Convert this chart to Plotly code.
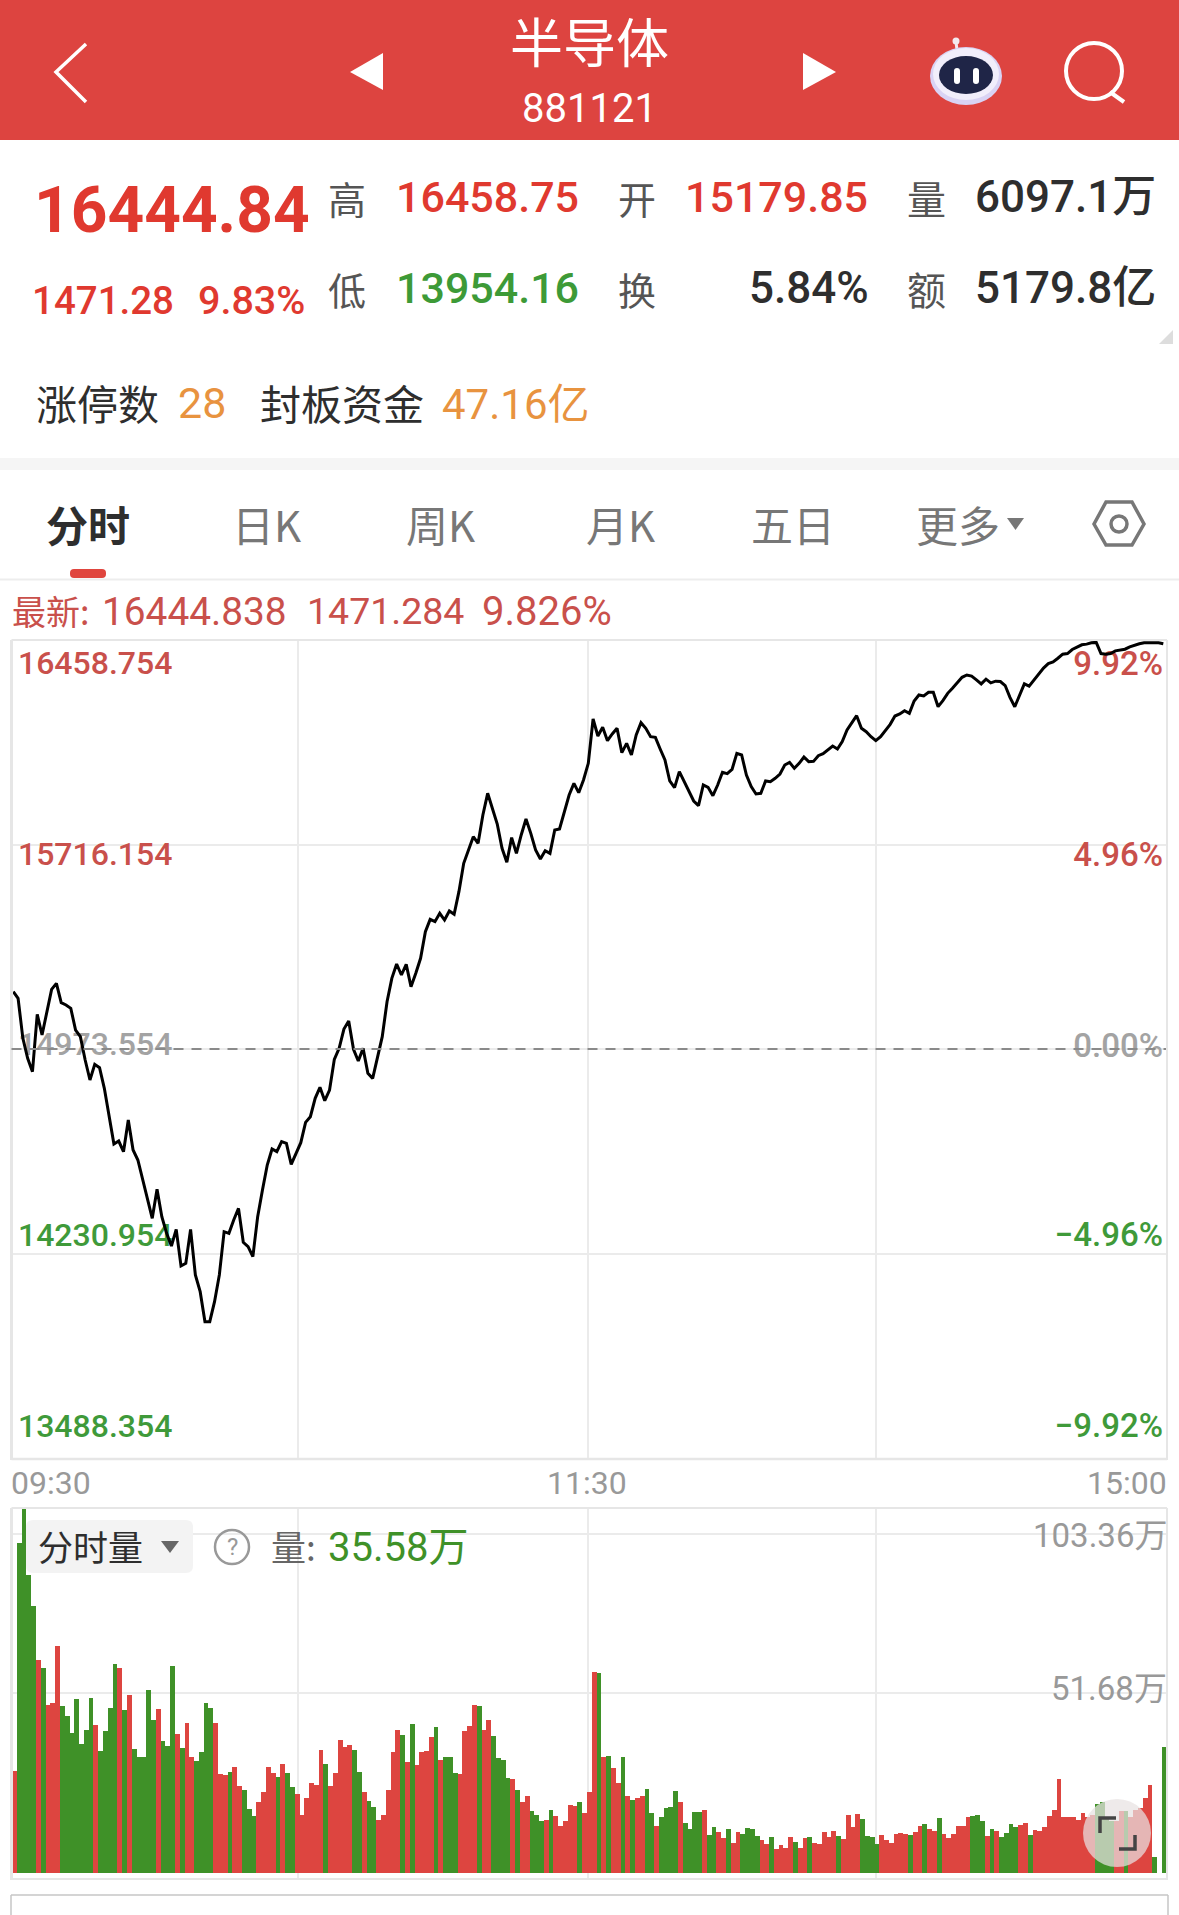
import plotly.graph_objects as go

W, H = 1179, 1915
CJK = "Noto Sans CJK SC"
NUM = "Roboto, 'Noto Sans CJK SC'"

RED = "#E0392F"
GREEN = "#3D9A37"
DARK = "#2E2E2E"
ORANGE = "#E8933F"
BAR_RED = "#DD4540"
BAR_GREEN = "#3F9128"
GRID = "#EBEBEB"

# intraday index value, one point per minute from 09:30
price = [
    15182.0, 15157.5, 15012.3, 14939.7, 14891.2, 15099.4, 15024.4, 15109.1, 15190.2, 15212.0,
    15141.8, 15133.3, 15121.2, 15042.5, 15018.3, 14933.6, 14861.0, 14917.8, 14905.8, 14830.7,
    14727.8, 14628.6, 14639.4, 14600.7, 14715.7, 14606.8, 14570.5, 14497.8, 14431.3, 14358.6,
    14464.0, 14364.7, 14304.2, 14258.2, 14318.7, 14185.6, 14195.2, 14318.7, 14152.9, 14092.4,
    13983.4, 13983.4, 14056.0, 14152.9, 14310.2, 14304.2, 14352.6, 14394.9, 14271.5, 14255.8,
    14219.4, 14364.7, 14461.5, 14552.3, 14610.4, 14600.7, 14637.0, 14631.0, 14554.7, 14594.7,
    14633.4, 14707.2, 14727.8, 14794.4, 14834.3, 14785.9, 14824.6, 14936.0, 14975.9, 15046.1,
    15075.2, 14972.3, 14929.9, 14975.9, 14885.2, 14867.0, 14939.6, 15018.3, 15145.4, 15230.1,
    15282.2, 15242.3, 15281.0, 15199.9, 15248.4, 15302.8, 15399.7, 15444.4, 15436.0, 15466.2,
    15442.0, 15474.7, 15462.6, 15544.9, 15647.8, 15696.2, 15744.6, 15720.4, 15823.3, 15902.0,
    15847.5, 15790.6, 15702.3, 15651.4, 15741.0, 15684.1, 15750.7, 15808.8, 15756.7, 15696.2,
    15663.5, 15693.8, 15684.1, 15768.8, 15772.5, 15835.4, 15895.9, 15938.3, 15904.4, 15950.4,
    16010.9, 16171.9, 16110.2, 16141.6, 16093.2, 16117.4, 16138.0, 16049.7, 16083.6, 16041.2,
    16113.8, 16158.6, 16138.0, 16107.8, 16105.3, 16063.0, 16023.0, 15946.8, 15922.6, 15980.7,
    15944.4, 15908.0, 15874.1, 15857.2, 15932.2, 15923.8, 15893.5, 15932.2, 15978.2, 15973.4,
    15989.1, 16047.2, 16041.2, 15968.6, 15926.2, 15899.6, 15902.0, 15946.8, 15944.4, 15956.5,
    15972.2, 16004.8, 16014.5, 15992.7, 16010.9, 16033.9, 16016.9, 16018.1, 16038.7, 16046.0,
    16059.3, 16073.8, 16062.9, 16089.6, 16131.9, 16159.8, 16184.0, 16138.0, 16125.9, 16107.7,
    16093.2, 16107.7, 16129.5, 16152.5, 16182.8, 16190.0, 16202.1, 16192.4, 16237.2, 16259.0,
    16255.4, 16268.7, 16268.7, 16216.6, 16238.4, 16265.1, 16283.2, 16303.8, 16323.2, 16331.6,
    16327.6, 16314.2, 16299.5, 16316.6, 16303.1, 16309.3, 16308.0, 16293.4, 16250.6, 16216.3,
    16256.7, 16299.5, 16290.9, 16311.7, 16336.2, 16357.0, 16372.8, 16379.0, 16392.4, 16407.1,
    16409.5, 16424.2, 16432.8, 16441.3, 16443.8, 16448.6, 16449.9, 16409.5, 16407.1, 16409.5,
    16419.3, 16421.7, 16425.4, 16434.0, 16440.1, 16445.0, 16448.6, 16448.6, 16448.6, 16448.6,
    16444.8,
]

# per minute volume in 万
volume = [
    28.8, 93.5, 103.36, 84.5, 75.7, 60.4, 58.1, 47.7, 48.1, 64.4,
    47.2, 44.6, 39.6, 49.4, 36.6, 40.6, 49.6, 41.8, 34.6, 40.3,
    46.7, 59.2, 58.1, 46.1, 50.4, 35.1, 32.9, 32.9, 51.7, 43.4,
    46.4, 37.3, 36.1, 58.5, 39.5, 35.4, 42.4, 32.9, 31.6, 34.4,
    48.0, 46.7, 42.6, 28.0, 27.8, 28.6, 29.9, 24.5, 23.4, 18.1,
    16.2, 20.0, 22.9, 30.0, 28.3, 27.1, 30.9, 28.2, 24.3, 22.5,
    16.4, 21.1, 25.6, 25.0, 34.9, 30.9, 24.7, 28.3, 37.7, 35.6,
    36.2, 34.8, 28.7, 22.9, 20.4, 18.7, 15.1, 16.5, 23.5, 34.4,
    40.6, 39.2, 31.4, 42.3, 30.5, 34.4, 34.6, 38.4, 41.3, 32.0,
    32.9, 32.9, 28.2, 28.0, 40.3, 41.6, 47.6, 47.3, 40.6, 43.4,
    38.9, 32.6, 32.0, 26.9, 26.6, 23.5, 20.2, 21.9, 17.6, 16.5,
    14.8, 15.0, 17.8, 16.2, 13.2, 14.8, 19.2, 19.1, 20.1, 17.1,
    22.8, 56.9, 56.6, 32.8, 33.1, 29.7, 25.4, 32.9, 21.8, 20.6,
    21.2, 21.8, 23.7, 17.1, 13.4, 16.0, 18.5, 18.8, 23.1, 20.2,
    14.2, 12.4, 17.2, 17.3, 17.8, 10.9, 13.0, 11.5, 10.0, 12.5,
    8.4, 11.7, 11.0, 12.7, 12.4, 10.4, 9.3, 8.3, 10.2, 6.9,
    8.0, 7.2, 10.3, 8.9, 7.2, 9.9, 10.2, 8.4, 8.1, 11.7,
    10.2, 12.0, 10.4, 9.7, 16.5, 12.9, 16.8, 15.3, 10.6, 10.3,
    8.2, 10.7, 9.3, 8.4, 11.0, 11.3, 11.0, 10.7, 11.5, 13.4,
    14.0, 12.4, 11.9, 15.5, 11.1, 9.8, 11.0, 13.4, 13.4, 16.0,
    16.2, 16.5, 14.8, 10.6, 12.5, 12.0, 10.2, 11.3, 14.0, 13.1,
    13.6, 14.2, 10.8, 12.2, 12.0, 13.1, 16.2, 17.8, 26.5, 15.9,
    16.0, 16.0, 15.1, 17.0, 16.0, 16.5, 19.4, 20.1, 16.0, 14.6,
    14.6, 17.6, 17.6, 16.0, 17.9, 18.4, 21.2, 24.8, 4.6, 0,
    35.58,
]

# R = up minute, G = down minute
volume_dir = (
    "RGGGGRGRRR" "GGGGGGGRGG" "GGRGRGGGGG" "RGGGRGRRGG" "GGRRRGRRGG" "GRRRRGRGGR"
    "RRRRRGRRRR" "RGGRGGRRRR" "RGRGRRRRGR" "GGGRRRRGRR" "GGGGRGRRGG" "GRGRRRRRGR"
    "RRGRGRRGRG" "RRGGRGGGGR" "GGGGRGGRRG" "RRGGGGRRGR" "RRRGRRGRRR" "RRGRRRRGGG"
    "GRRRRRRGRR" "GRRGRRRRRR" "GGGRGRGGGG" "RRGRRRRRRR" "RRRRRRGGGG" "RRGRRRRRGGG"
)

minutes = list(range(len(price)))

price_ticks = [16458.754, 15716.154, 14973.554, 14230.954, 13488.354]
price_labels = ["16458.754", "15716.154", "14973.554", "14230.954", "13488.354"]
pct_labels = ["9.92%", "4.96%", "0.00%", "−4.96%", "−9.92%"]
label_colors = ["#C9504B", "#C9504B", "#A3A3A3", "#3F9A3A", "#3F9A3A"]
time_grid = [59.5, 120, 180]
time_labels = ["09:30", "11:30", "15:00"]
volume_grid = [51.0, 96.0]
volume_labels = ["103.36万", "51.68万"]


def X(x):
    return x / W


def Y(y):
    return 1 - y / H


# plot boxes, in page pixels
PRICE_LEFT, PRICE_RIGHT, PRICE_TOP, PRICE_BOTTOM = 11.9, 1166.7, 640, 1458
VOL_TOP, VOL_BOTTOM = 1508, 1879
PRICE_RANGE = [price_ticks[-1], price_ticks[0]]
X_RANGE = [-0.29, 240.71]


def price_at(y):
    f = (PRICE_BOTTOM - y) / (PRICE_BOTTOM - PRICE_TOP)
    return PRICE_RANGE[0] + f * (PRICE_RANGE[1] - PRICE_RANGE[0])


def minute_at(x):
    f = (x - PRICE_LEFT) / (PRICE_RIGHT - PRICE_LEFT)
    return X_RANGE[0] + f * (X_RANGE[1] - X_RANGE[0])


fig = go.Figure()

# axis labels go in as text traces so the price line stays on top of them
left_y = [665.5, 856.5, 1047, 1238, 1429]
right_y = [666.5, 857.5, 1048.5, 1238, 1429]
fig.add_trace(go.Scatter(
    x=[minute_at(18)] * 5, y=[price_at(v) for v in left_y], text=price_labels,
    mode="text", textposition="middle right", cliponaxis=False,
    textfont=dict(family="Roboto", size=32, color=label_colors, weight=500),
    hoverinfo="skip", showlegend=False,
))
fig.add_trace(go.Scatter(
    x=[minute_at(1163)] * 5, y=[price_at(v) for v in right_y], text=pct_labels,
    mode="text", textposition="middle left", cliponaxis=False,
    textfont=dict(family="Roboto", size=33, color=label_colors, weight=500),
    hoverinfo="skip", showlegend=False,
))
fig.add_trace(go.Scatter(
    x=minutes, y=price, mode="lines",
    line=dict(color="#000000", width=3, shape="linear"),
    hoverinfo="skip", showlegend=False,
))
fig.add_trace(go.Bar(
    x=minutes, y=volume, xaxis="x2", yaxis="y2", width=1,
    marker=dict(color=[BAR_RED if d == "R" else BAR_GREEN for d in volume_dir], line=dict(width=0)),
    hoverinfo="skip", showlegend=False,
))

shapes = []


def rect(x0, y0, x1, y1, fill, radius=0):
    if radius:
        path = (
            f"M {X(x0 + radius)} {Y(y0)} L {X(x1 - radius)} {Y(y0)} "
            f"Q {X(x1)} {Y(y0)} {X(x1)} {Y(y0 + radius)} L {X(x1)} {Y(y1 - radius)} "
            f"Q {X(x1)} {Y(y1)} {X(x1 - radius)} {Y(y1)} L {X(x0 + radius)} {Y(y1)} "
            f"Q {X(x0)} {Y(y1)} {X(x0)} {Y(y1 - radius)} L {X(x0)} {Y(y0 + radius)} "
            f"Q {X(x0)} {Y(y0)} {X(x0 + radius)} {Y(y0)} Z"
        )
        shapes.append(dict(type="path", xref="paper", yref="paper", path=path,
                           fillcolor=fill, line=dict(width=0)))
    else:
        shapes.append(dict(type="rect", xref="paper", yref="paper", x0=X(x0), x1=X(x1),
                           y0=Y(y0), y1=Y(y1), fillcolor=fill, line=dict(width=0)))


def seg(x0, y0, x1, y1, color, width=2, dash="solid", layer="above"):
    shapes.append(dict(type="line", xref="paper", yref="paper", x0=X(x0), x1=X(x1),
                       y0=Y(y0), y1=Y(y1), layer=layer, line=dict(color=color, width=width, dash=dash)))


def oval(cx, cy, rx, ry, fill="rgba(0,0,0,0)", color="rgba(0,0,0,0)", width=0):
    shapes.append(dict(type="circle", xref="paper", yref="paper", x0=X(cx - rx), x1=X(cx + rx),
                       y0=Y(cy - ry), y1=Y(cy + ry), fillcolor=fill, line=dict(color=color, width=width)))


def poly(points, fill="rgba(0,0,0,0)", color="rgba(0,0,0,0)", width=0, close=True):
    path = "M " + " L ".join(f"{X(a)} {Y(b)}" for a, b in points) + (" Z" if close else "")
    shapes.append(dict(type="path", xref="paper", yref="paper", path=path,
                       fillcolor=fill, line=dict(color=color, width=width)))


# header bar
rect(0, 0, W, 140, "#DD4440")
poly([(86, 44), (56, 72), (86, 102)], color="#FFFFFF", width=3.5, close=False)
poly([(383, 53), (350, 72), (383, 90)], fill="#FFFFFF")
poly([(803, 53), (836, 72), (803, 90)], fill="#FFFFFF")
seg(957, 50, 956, 42, "#F4E9EE", 3)
oval(956, 41, 3.5, 3.5, fill="#F4E9EE")
oval(966, 76, 36, 29, fill="#D9D3F4")
oval(966, 74, 33, 26, fill="#F1EEFB")
oval(966, 75, 27, 19, fill="#1F2547")
rect(954, 68, 960, 84, "#FFFFFF", radius=3)
rect(973, 68, 979, 84, "#FFFFFF", radius=3)
oval(1094, 71, 28, 28, color="#FFFFFF", width=4)
seg(1110, 92, 1124, 102, "#FFFFFF", 4)

# quote block
poly([(1173, 330), (1159, 344), (1173, 344)], fill="#DDDDDD")
rect(0, 458, W, 470, "#F5F5F5")

# tab strip
rect(70, 569, 106, 578, "#E0453E", radius=4)
seg(0, 579.5, W, 579.5, "#EDEDED", 2)
poly([(1007, 518), (1024, 518), (1015.5, 530)], fill="#777777")
poly([(1094, 524), (1106, 502), (1132, 502), (1144, 524), (1132, 545), (1106, 545)], color="#777777", width=3.5)
oval(1119, 524, 8, 8, color="#777777", width=3.5)

# price panel frame and zero line
seg(11.5, 640, 1167, 640, "#E6E6E6", 2)
seg(11.5, 640, 11.5, 1460, "#E6E6E6", 3)
seg(1167, 640, 1167, 1460, "#E6E6E6", 2)
seg(11.5, 1459, 1167, 1459, "#E6E6E6", 2.5)
shapes.append(dict(type="line", xref="paper", yref="y", x0=X(11.5), x1=X(1166), y0=price_ticks[2], y1=price_ticks[2],
                   line=dict(color="#8A8A8A", width=1.8, dash="10px,8px")))

# volume panel frame
seg(11.5, 1508, 1167, 1508, "#E6E6E6", 2)
seg(11.5, 1508, 11.5, 1880, "#E6E6E6", 3)
seg(1167, 1508, 1167, 1880, "#E6E6E6", 2)
seg(11.5, 1879, 1167, 1879, "#E6E6E6", 2)
rect(26, 1520, 193, 1573, "rgba(242,242,242,0.96)", radius=7)
poly([(161, 1541), (179, 1541), (170, 1553)], fill="#666666")
oval(232, 1547, 17, 17, color="#999999", width=2.5)
oval(1117, 1833, 34, 34, fill="rgba(232,226,226,0.72)")
poly([(1100, 1833), (1100, 1818), (1116, 1818)], color="#444444", width=3.5, close=False)
poly([(1119, 1849), (1135, 1849), (1135, 1835)], color="#444444", width=3.5, close=False)

# next card peeking in at the bottom
seg(11, 1895, 1168, 1895, "#C6C6C6", 1.5)
seg(11, 1895, 11, H, "#C6C6C6", 1.5)
seg(1168, 1895, 1168, H, "#C6C6C6", 1.5)

notes = []


def label(text, x, y, size, color, anchor="left", weight=400, family=NUM):
    notes.append(dict(text=text, x=X(x), y=Y(y), xref="paper", yref="paper", showarrow=False,
                      xanchor=anchor, yanchor="middle", borderpad=0, borderwidth=0,
                      font=dict(family=family, size=size, color=color, weight=weight)))


label("半导体", 589, 40, 53, "#FFFFFF", "center", family=CJK)
label("881121", 589.5, 108, 40, "#FFFFFF", "center")

label("16444.84", 34, 210, 64, RED, weight=700)
label("1471.28", 32, 300, 38.5, RED, weight=500)
label("9.83%", 304.5, 300, 39.5, RED, "right", weight=500)

label("高", 347, 197, 38, "#555555", "center", family=CJK)
label("低", 347, 288, 38, "#555555", "center", family=CJK)
label("16458.75", 396, 197, 43, RED, weight=500)
label("13954.16", 396, 288, 43, GREEN, weight=500)
label("开", 637, 197, 38, "#555555", "center", family=CJK)
label("换", 637, 288, 38, "#555555", "center", family=CJK)
label("15179.85", 868, 197, 43, RED, "right", weight=500)
label("5.84%", 869, 288, 44, DARK, "right", weight=500)
label("量", 926, 197, 39, "#555555", "center", family=CJK)
label("额", 926, 288, 39, "#555555", "center", family=CJK)
label("6097.1万", 1156, 197, 44, DARK, "right", weight=500)
label("5179.8亿", 1156, 288, 44, DARK, "right", weight=500)

label("涨停数", 36, 402, 41, DARK, family=CJK)
label("28", 178, 403, 43, ORANGE)
label("封板资金", 260, 402, 41, DARK, family=CJK)
label("47.16亿", 442, 404, 42, ORANGE)

label("分时", 88, 523, 42, DARK, "center", weight=700, family=CJK)
label("日K", 266, 523, 42, "#777777", "center", family=CJK)
label("周K", 440, 523, 42, "#777777", "center", family=CJK)
label("月K", 620, 523, 42, "#777777", "center", family=CJK)
label("五日", 793, 523, 42, "#777777", "center", family=CJK)
label("更多", 958, 523, 42, "#777777", "center", family=CJK)

label("最新:", 12, 610, 34, "#C9504B", family=CJK)
label("16444.838", 102, 611, 38.8, "#C9504B")
label("1471.284", 307, 611, 37.5, "#C9504B")
label("9.826%", 482, 611, 40, "#C9504B")

label(time_labels[0], 11, 1483, 32, "#999999")
label(time_labels[1], 587, 1483, 32, "#999999", "center")
label(time_labels[2], 1167, 1483, 32, "#999999", "right")

label("分时量", 38, 1545, 35, DARK, family=CJK)
label("?", 232, 1547, 24, "#999999", "center")
label("量:", 271, 1545, 35, "#666666", family=CJK)
label("35.58万", 328, 1547, 40, BAR_GREEN)
label(volume_labels[0], 1167, 1535, 33, "#999999", "right")
label(volume_labels[1], 1167, 1688, 33, "#999999", "right")

fig.update_layout(
    width=W, height=H, autosize=False,
    margin=dict(l=0, r=0, t=0, b=0),
    paper_bgcolor="#FFFFFF", plot_bgcolor="#FFFFFF",
    bargap=0, dragmode=False, showlegend=False,
    shapes=shapes, annotations=notes,
    xaxis=dict(domain=[X(PRICE_LEFT), X(PRICE_RIGHT)], range=X_RANGE, tickvals=time_grid,
               showticklabels=False, ticks="", showgrid=True, gridcolor=GRID, gridwidth=1.5,
               zeroline=False, showline=False, fixedrange=True),
    yaxis=dict(domain=[Y(PRICE_BOTTOM), Y(PRICE_TOP)], range=PRICE_RANGE, tickvals=price_ticks[1:4],
               showticklabels=False, ticks="", showgrid=True, gridcolor=GRID, gridwidth=1.5,
               zeroline=False, showline=False, fixedrange=True),
    xaxis2=dict(domain=[X(PRICE_LEFT), X(PRICE_RIGHT)], range=[-0.5, 240.5], anchor="y2", tickvals=[59.3, 119.7, 179.8],
                showticklabels=False, ticks="", showgrid=True, gridcolor=GRID, gridwidth=1.5,
                zeroline=False, showline=False, fixedrange=True),
    yaxis2=dict(domain=[Y(VOL_BOTTOM), Y(VOL_TOP)], range=[-1.7, 103.36], anchor="x2", tickvals=volume_grid,
                showticklabels=False, ticks="", showgrid=True, gridcolor=GRID, gridwidth=1.5,
                zeroline=False, showline=False, fixedrange=True),
)

fig.write_html(
    "out.html",
    config={"displayModeBar": False},
    post_script="document.body.style.margin='0';document.body.style.overflow='hidden';",
)
